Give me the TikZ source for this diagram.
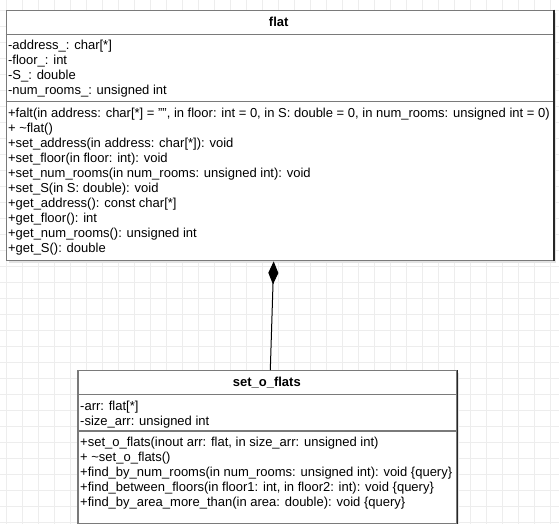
\documentclass[tikz,border=0pt]{standalone}
\usepackage{fontspec}
\setmainfont{Liberation Sans}
\usetikzlibrary{arrows.meta}
\definecolor{gridc}{HTML}{EDEDED}
\definecolor{boxc}{HTML}{7A7A7A}
\definecolor{shadc}{HTML}{E3E3E3}
\tikzset{
  umlbox/.style={draw=boxc, line width=1.4pt, fill=white, inner sep=0pt, anchor=north west},
  sepline/.style={draw=boxc, line width=1.4pt},
  rightedge/.style={draw=black!85, line width=1.4pt},
  member/.style={anchor=west, inner sep=0pt, text height=9pt, text depth=3pt, font=\fontsize{13}{15}\selectfont},
  umltitle/.style={inner sep=0pt, text height=9pt, text depth=3pt, font=\bfseries\fontsize{13}{15}\selectfont},
  shadowbox/.style={fill=shadc, draw=none},
  gridline/.style={draw=gridc, line width=0.8pt},
  composition/.style={draw=black, line width=1pt, -{Diamond[length=23pt,width=10pt,fill=black]}},
}
\begin{document}
\begin{tikzpicture}[x=1pt,y=-1pt]
\useasboundingbox (0,0) rectangle (559,524);
\fill[white] (0,0) rectangle (559,524);
% grid
\foreach \x in {6.7,22.7,...,559} \draw[gridline] (\x,0) -- (\x,524);
\foreach \y in {10.7,26.7,...,524} \draw[gridline] (0,\y) -- (559,\y);

% ---------- class flat ----------
\fill[shadowbox] (8.7,12.7) rectangle (555.7,263);
\node[umlbox, minimum width=547pt, minimum height=250.3pt] (flat) at (5.7,9.7) {};
\draw[sepline] (flat.west |- 0,34.3) -- (flat.east |- 0,34.3);
\draw[sepline] (flat.west |- 0,101.7) -- (flat.east |- 0,101.7);
\draw[rightedge] (flat.north east) -- (flat.south east);
\node[umltitle] (flatT) at (278.7,23.7) {flat};
\foreach \t [count=\i from 0] in {
  {-address\_: char[*]},
  {-floor\_: int},
  {-S\_: double},
  {-num\_rooms\_: unsigned int}}
  \node[member] (fa\i) at (7.9,46.8+15*\i) {\t};
\foreach \t [count=\i from 0] in {
  {+falt(in address: char[*] = "", in floor: int = 0, in S: double = 0, in num\_rooms: unsigned int = 0)},
  {+ \textasciitilde flat()},
  {+set\_address(in address: char[*]): void},
  {+set\_floor(in floor: int): void},
  {+set\_num\_rooms(in num\_rooms: unsigned int): void},
  {+set\_S(in S: double): void},
  {+get\_address(): const char[*]},
  {+get\_floor(): int},
  {+get\_num\_rooms(): unsigned int},
  {+get\_S(): double}}
  \node[member] (fm\i) at (7.9,114.4+15*\i) {\t};

% ---------- class set_o_flats ----------
\fill[shadowbox] (80.3,373) rectangle (459.3,525.5);
\node[umlbox, minimum width=379pt, minimum height=152.5pt] (sof) at (77.3,370) {};
\draw[sepline] (sof.west |- 0,394.3) -- (sof.east |- 0,394.3);
\draw[sepline] (sof.west |- 0,431) -- (sof.east |- 0,431);
\draw[rightedge] (sof.north east) -- (sof.south east);
\node[umltitle] (sofT) at (266.8,383.7) {set\_o\_flats};
\foreach \t [count=\i from 0] in {
  {-arr: flat[*]},
  {-size\_arr: unsigned int}}
  \node[member] (sa\i) at (80,407+15*\i) {\t};
\foreach \t [count=\i from 0] in {
  {+set\_o\_flats(inout arr: flat, in size\_arr: unsigned int)},
  {+ \textasciitilde set\_o\_flats()},
  {+find\_by\_num\_rooms(in num\_rooms: unsigned int): void \{query\}},
  {+find\_between\_floors(in floor1: int, in floor2: int): void \{query\}},
  {+find\_by\_area\_more\_than(in area: double): void \{query\}}}
  \node[member] (sm\i) at (80,443.7+15*\i) {\t};

% ---------- composition ----------
\draw[composition] ([xshift=193pt]sof.north west) -- ([xshift=268pt]flat.south west);
\end{tikzpicture}
\end{document}
